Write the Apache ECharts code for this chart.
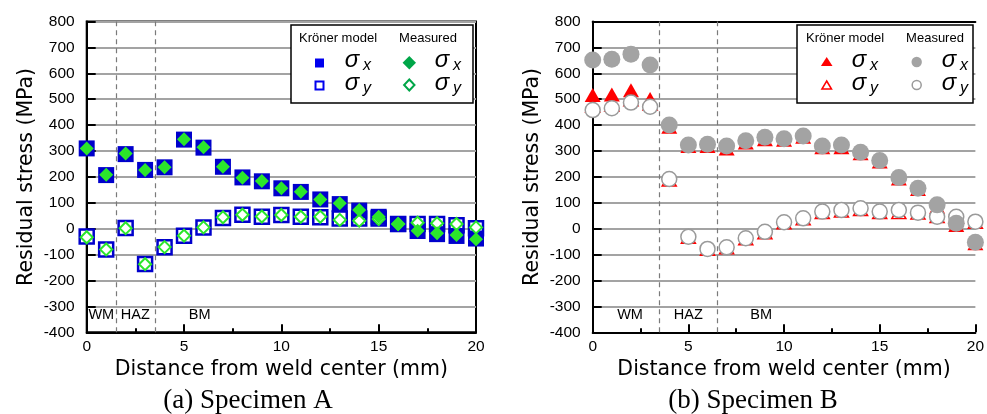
<!DOCTYPE html>
<html>
<head>
<meta charset="utf-8">
<script src="https://cdn.jsdelivr.net/npm/echarts@6/dist/echarts.min.js"></script>
<style>
  html, body { margin: 0; padding: 0; background: #fff; }
  #chart { width: 987px; height: 414px; }
</style>
</head>
<body>
<div id="chart"></div>
<script>
// Distance from the weld centre line (mm)
const distance = [0, 1, 2, 3, 4, 5, 6, 7, 8, 9, 10, 11, 12, 13, 14, 15, 16, 17, 18, 19, 20];

// Specimen A residual stresses (MPa)
const aKronerX = [310, 207, 288, 227, 237, 344, 313, 239, 198, 183, 156, 142, 113, 95, 70, 46, 18, -9, -21, -28, -38];
const aKronerY = [-30, -80, 3, -136, -72, -27, 5, 41, 54, 46, 53, 46, 44, 39, 39, 39, 18, 18, 18, 13, 2];
const aMeasX   = [310, 208, 290, 227, 237, 345, 314, 239, 197, 184, 156, 143, 113, 98, 72, 46, 18, -8, -18, -24, -41];
const aMeasY   = [-33, -80, 2, -137, -71, -27, 5, 44, 54, 47, 53, 46, 46, 34, 31, 37, 18, 23, 21, 18, 5];

// Specimen B residual stresses (MPa)
const bKronerX = [516, 518, 535, 501, 394, 319, 319, 310, 333, 345, 343, 355, 314, 314, 291, 259, 194, 153, 85, 14, -56];
const bKronerY = [474, 477, 498, 481, 188, -33, -80, -74, -39, -16, 23, 38, 62, 68, 74, 62, 62, 60, 47, 44, 25];
const bMeasX   = [651, 654, 674, 632, 400, 323, 326, 319, 340, 353, 347, 358, 319, 323, 295, 263, 198, 156, 92, 21, -52];
const bMeasY   = [458, 465, 487, 471, 192, -31, -78, -72, -37, -12, 25, 40, 66, 72, 79, 66, 72, 62, 46, 46, 27];

// Weld zones: names, boundaries (mm)
const zoneNames = ['WM', 'HAZ', 'BM'];
const zoneEdgesA = [1.5, 3.5];
const zoneEdgesB = [3.5, 6.5];

// Axis ranges
const stressMin = -400, stressMax = 800, stressStep = 100;
const distMin = 0, distMax = 20, distStep = 5;

const captions = ['(a) Specimen A', '(b) Specimen B'];

// ---------------------------------------------------------------
const SANS = 'Liberation Sans';
const TITLE_FONT = 'DejaVu Sans';

const zoneLabelX = { 0: [0.75, 2.5, 5.8], 1: [1.95, 5.0, 8.8] };
const zoneLabelLevel = -333;

function pairs(vals) { return distance.map((d, i) => [d, vals[i]]); }

function xAxisFor(gi) {
  return {
    type: 'value', gridIndex: gi, min: distMin, max: distMax, interval: distStep,
    axisLine: { show: true, onZero: false, lineStyle: { color: '#000', width: 2 } },
    axisTick: { show: true, inside: true, length: 8, lineStyle: { color: '#000', width: 2 } },
    minorTick: { show: true, splitNumber: 2, length: 4, lineStyle: { color: '#000', width: 2 } },
    splitLine: { show: false },
    axisLabel: { margin: 6, color: '#000', fontFamily: SANS, fontSize: 15.5 },
    name: 'Distance from weld center (mm)', nameLocation: 'middle', nameGap: 22,
    nameTextStyle: { color: '#000', fontFamily: TITLE_FONT, fontSize: 20.5 }
  };
}

function yAxisFor(gi) {
  return {
    type: 'value', gridIndex: gi, min: stressMin, max: stressMax, interval: stressStep,
    axisLine: { show: true, onZero: false, lineStyle: { color: '#000', width: 2 } },
    axisTick: { show: true, inside: true, length: 9, lineStyle: { color: '#000', width: 2 } },
    splitLine: { show: true, lineStyle: { color: '#a3a3a3', width: 2 } },
    axisLabel: { margin: 12, color: '#000', fontFamily: SANS, fontSize: 15.5 },
    name: 'Residual stress (MPa)', nameLocation: 'middle', nameGap: 50,
    nameTextStyle: { color: '#000', fontFamily: TITLE_FONT, fontSize: 20.5 }
  };
}

function scatter(gi, vals, symbol, size, fill, stroke, strokeW) {
  return {
    type: 'scatter', xAxisIndex: gi, yAxisIndex: gi, silent: true,
    symbol: symbol, symbolSize: size, data: pairs(vals),
    itemStyle: { color: fill, borderColor: stroke || fill, borderWidth: strokeW || 0, opacity: 1 }
  };
}

// Zone names drawn at data coordinates, plus dashed zone boundaries
function zoneSeries(gi, edges) {
  const xs = zoneLabelX[gi];
  return {
    type: 'custom', xAxisIndex: gi, yAxisIndex: gi, silent: true, z: 3,
    data: zoneNames.map((n, i) => [xs[i], zoneLabelLevel, n]),
    renderItem: function (params, api) {
      const p = api.coord([api.value(0), api.value(1)]);
      return {
        type: 'text', x: p[0], y: p[1],
        style: { text: zoneNames[params.dataIndex], fill: '#000', fontFamily: SANS, fontSize: 14.5,
                 align: 'center', verticalAlign: 'middle' }
      };
    },
    markLine: {
      silent: true, symbol: ['none', 'none'], label: { show: false },
      lineStyle: { color: '#7a7a7a', width: 1.2, type: [5, 4] },
      data: edges.map(e => ({ xAxis: e }))
    }
  };
}

const GREEN = '#2be62b', BLUE = '#0000cc', RED = '#ff0000', GRAY = '#a3a3a3';

const series = [
  // Specimen A
  scatter(0, aKronerY, 'rect', 14, '#fff', BLUE, 2.5),
  scatter(0, aKronerX, 'rect', 16, BLUE),
  scatter(0, aMeasY, 'diamond', 12, '#fff', GREEN, 2),
  scatter(0, aMeasX, 'diamond', 14, GREEN),
  zoneSeries(0, zoneEdgesA),
  // Specimen B
  scatter(1, bKronerY, 'triangle', [14, 12], '#fff', RED, 1.5),
  scatter(1, bKronerX, 'triangle', [16, 14], RED),
  scatter(1, bMeasY, 'circle', 15, '#fff', '#9a9a9a', 1.5),
  scatter(1, bMeasX, 'circle', 17, GRAY),
  zoneSeries(1, zoneEdgesB)
];

// ---- legend boxes and captions (graphic layer) ----
function txt(x, y, s, size, opts) {
  return {
    type: 'text', x: x, y: y, silent: true, z: 100,
    style: Object.assign({ text: s, fontFamily: SANS, fontSize: size, fill: '#000', align: 'center', verticalAlign: 'middle' }, opts || {})
  };
}
function sigma(x, y, sub) {
  return [
    txt(x, y - 2, 'σ', 24, { fontStyle: 'italic' }),
    txt(x + 11, y + 4, sub, 16, { fontStyle: 'italic', align: 'left' })
  ];
}
function legendBox(x0, x1, colA, colB, iconsA, iconsB, sigA, sigB) {
  const g = [];
  g.push({ type: 'rect', silent: true, z: 99, shape: { x: x0, y: 25, width: x1 - x0, height: 78 },
           style: { fill: '#fff', stroke: '#000', lineWidth: 1.5 } });
  g.push(txt(colA, 38.5, 'Kröner model', 13));
  g.push(txt(colB, 38.5, 'Measured', 13));
  g.push(...iconsA, ...iconsB);
  g.push(...sigma(sigA, 62, 'x'), ...sigma(sigA, 85, 'y'));
  g.push(...sigma(sigB, 62, 'x'), ...sigma(sigB, 85, 'y'));
  return g;
}
function poly(points, style) { return { type: 'polygon', silent: true, z: 101, shape: { points: points }, style: style }; }

const LEG_GREEN = '#00a648', LEG_BLUE = '#0000ee';
const legendA = legendBox(291, 473, 338, 428,
  [
    { type: 'rect', silent: true, z: 101, shape: { x: 315, y: 58.5, width: 9, height: 9 }, style: { fill: LEG_BLUE } },
    { type: 'rect', silent: true, z: 101, shape: { x: 315.5, y: 81.5, width: 8, height: 8 }, style: { fill: '#fff', stroke: LEG_BLUE, lineWidth: 2 } }
  ],
  [
    poly([[409.3, 56], [416, 62.7], [409.3, 69.4], [402.6, 62.7]], { fill: LEG_GREEN }),
    poly([[409.3, 79.5], [414.5, 85], [409.3, 90.5], [404.1, 85]], { fill: '#fff', stroke: LEG_GREEN, lineWidth: 2 })
  ],
  352, 442);

const legendB = legendBox(797, 973, 845, 935,
  [
    poly([[826.7, 57], [832.5, 66], [820.9, 66]], { fill: RED }),
    poly([[826.7, 81], [831.5, 89], [821.9, 89]], { fill: '#fff', stroke: RED, lineWidth: 1.5 })
  ],
  [
    { type: 'circle', silent: true, z: 101, shape: { cx: 916.7, cy: 62, r: 5.2 }, style: { fill: GRAY } },
    { type: 'circle', silent: true, z: 101, shape: { cx: 916.7, cy: 85, r: 4.5 }, style: { fill: '#fff', stroke: '#9a9a9a', lineWidth: 1.5 } }
  ],
  859, 949);

const captionGraphics = [
  txt(248, 401, captions[0], 27, { fontFamily: 'Liberation Serif' }),
  txt(753, 401, captions[1], 27, { fontFamily: 'Liberation Serif' })
];

const chart = echarts.init(document.getElementById('chart'), null, { renderer: 'canvas' });
chart.setOption({
  backgroundColor: '#fff',
  animation: false,
  grid: [
    { left: 86.7, top: 21.5, width: 389.3, height: 310.8, show: true, borderColor: '#000', borderWidth: 2, backgroundColor: 'transparent' },
    { left: 592.7, top: 21.5, width: 388, height: 310.8, show: false }
  ],
  xAxis: [
    xAxisFor(0),
    xAxisFor(1),
    // top frame line of the second panel
    { type: 'value', gridIndex: 1, position: 'top', min: distMin, max: distMax,
      axisLine: { show: true, onZero: false, lineStyle: { color: '#000', width: 2 } },
      axisTick: { show: false }, axisLabel: { show: false }, splitLine: { show: false } }
  ],
  yAxis: [yAxisFor(0), yAxisFor(1)],
  series: series,
  graphic: [...legendA, ...legendB, ...captionGraphics]
});
</script>
</body>
</html>
